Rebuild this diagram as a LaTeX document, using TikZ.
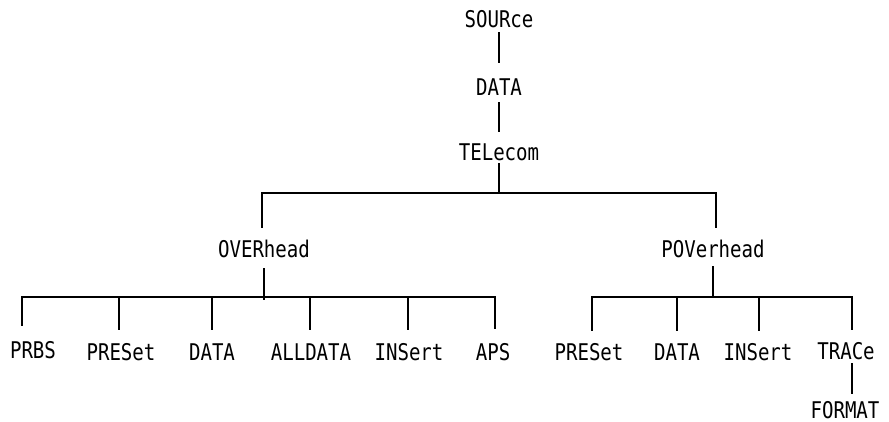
\documentclass[tikz,border=0pt]{standalone}
\usepackage{fontspec}
\newfontfamily\treefont{DejaVu Sans Mono}[FakeStretch=0.83]
\usetikzlibrary{calc}
\tikzset{
  lbl/.style={font=\treefont\fontsize{23}{25}\selectfont, inner sep=0pt,
              text height=16.5pt, text depth=0pt},
  wire/.style={line width=2.8pt, line join=miter}
}
\begin{document}
\begin{tikzpicture}[x=1pt,y=-1pt]
\useasboundingbox (0,0) rectangle (889,422);

% command chain at the top
\node[lbl] (src) at (499,19.5) {SOURce};
\node[lbl] (dat) at (499,87) {DATA};
\node[lbl] (tel) at (499,152) {TELecom};

% second level
\node[lbl] (ovh) at (264,249) {OVERhead};
\node[lbl] (pov) at (713,249) {POVerhead};

% OVERhead children
\node[lbl] (prbs) at (33,350) {PRBS};
\node[lbl] (opre) at (121,352) {PRESet};
\node[lbl] (odat) at (212,352) {DATA};
\node[lbl] (oall) at (311,352) {ALLDATA};
\node[lbl] (oins) at (409,352) {INSert};
\node[lbl] (oaps) at (493,352) {APS};

% POVerhead children
\node[lbl] (ppre) at (589,352) {PRESet};
\node[lbl] (pdat) at (677,352) {DATA};
\node[lbl] (pins) at (758,352) {INSert};
\node[lbl] (ptra) at (846,351) {TRACe};
\node[lbl] (pfmt) at (845,410) {FORMAT};

% bus corners
\coordinate (tb)  at (499,193);
\coordinate (tbL) at (262,193);
\coordinate (tbR) at (716,193);
\coordinate (lbL) at (22,297);
\coordinate (lbR) at (495,297);
\coordinate (rbL) at (592,297);
\coordinate (rbR) at (852,297);

\draw[wire] ([yshift=-4.5pt]src.south) -- ([yshift=16pt]dat.north);
\draw[wire] ([yshift=-7pt]dat.south) -- ([yshift=12pt]tel.north);
\draw[wire] ([yshift=-3pt]tel.south) -- (tb);

% TELecom bus
\draw[wire] ($(tbL |- ovh.north)+(0,-13)$) -- (tbL) -- (tbR) -- ($(tbR |- pov.north)+(0,-13)$);

% OVERhead bus
\draw[wire] ([yshift=-11pt]ovh.south) -- ([yshift=-3pt]ovh.south |- lbL);
\draw[wire] ($(lbL |- prbs.north)+(0,-16)$) -- (lbL) -- (lbR) -- ($(lbR |- oaps.north)+(0,-15)$);
\draw[wire] (lbL -| 119,0) -- ($(opre.north -| 119,0)+(0,-14)$);
\draw[wire] (odat.north |- lbL) -- ([yshift=14pt]odat.north);
\draw[wire] (lbL -| 310,0) -- ($(oall.north -| 310,0)+(0,-14)$);
\draw[wire] (lbL -| 408,0) -- ($(oins.north -| 408,0)+(0,-14)$);

% POVerhead bus
\draw[wire] ([yshift=-9pt]pov.south) -- ([yshift=-1pt]pov.south |- rbL);
\draw[wire] ($(rbL |- ppre.north)+(0,-13)$) -- (rbL) -- (rbR) -- ($(rbR |- ptra.north)+(0,-13)$);
\draw[wire] (pdat.north |- rbL) -- ([yshift=13pt]pdat.north);
\draw[wire] (rbL -| 759,0) -- ($(pins.north -| 759,0)+(0,-13)$);
\draw[wire] ($(ptra.south -| rbR)+(0,4)$) -- ($(pfmt.north -| rbR)+(0,-8)$);
\end{tikzpicture}
\end{document}
